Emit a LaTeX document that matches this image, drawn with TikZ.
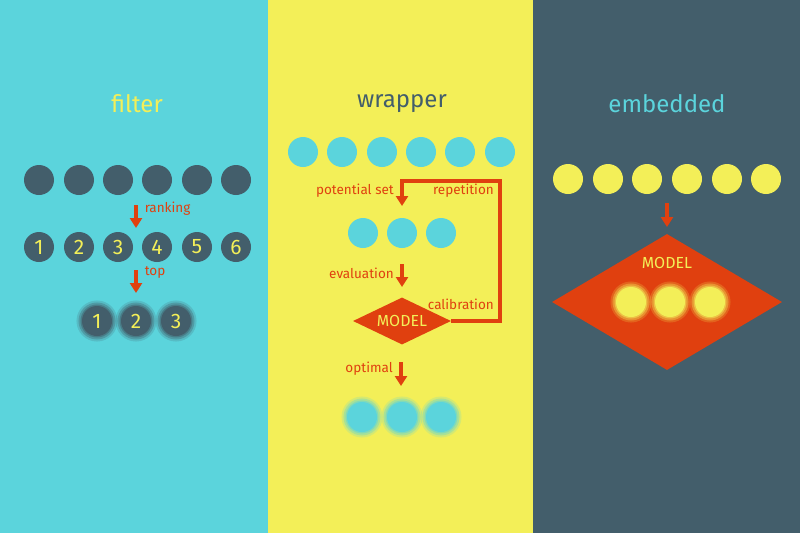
\documentclass[tikz,border=0pt]{standalone}
\usepackage{fontspec}
\setmainfont{Fira Sans}
\usepackage{tikz}
\usetikzlibrary{shapes.geometric, arrows.meta, positioning}
\definecolor{cyanbg}{HTML}{5BD4DC}
\definecolor{yellowbg}{HTML}{F3EF58}
\definecolor{slatebg}{HTML}{435E6B}
\definecolor{redarr}{HTML}{E0400F}

\begin{document}
\begin{tikzpicture}[
  x=1pt, y=-1pt,
  dot/.style={circle, minimum size=30pt, inner sep=0pt,
              font=\fontsize{21}{21}\selectfont},
  title/.style={font=\fontsize{24}{24}\selectfont},
  lbl/.style={font=\fontsize{13.5}{13.5}\selectfont, text=redarr, inner sep=1pt},
  arr/.style={-{Triangle[width=12pt,length=10pt]}, line width=3.5pt, redarr},
  glow/.style={preaction={draw=#1, line width=11pt, opacity=.2},
               preaction={draw=#1, line width=7pt, opacity=.35},
               preaction={draw=#1, line width=3pt, opacity=.5}},
  model/.style={diamond, aspect=2, fill=redarr, inner sep=0pt, text=yellowbg,
                font=\fontsize{16}{16}\selectfont}
]
  \useasboundingbox (0,0) rectangle (800,533);
  % panels
  \fill[cyanbg]   (0,0)   rectangle (268,533);
  \fill[yellowbg] (268,0) rectangle (533,533);
  \fill[slatebg]  (533,0) rectangle (800,533);

  % filter
  \node[title, text=yellowbg] (ftitle) at (137,104) {filter};
  \foreach \x [count=\i] in {39,79,118,157,197,236}
    \node[dot, fill=slatebg] (fa\i) at (\x,180) {};
  \foreach \x [count=\i] in {39,79,118,157,197,236}
    \node[dot, fill=slatebg, text=yellowbg] (fb\i) at (\x,247) {\i};
  \foreach \x [count=\i] in {97,136,176}
    \node[dot, fill=slatebg, text=yellowbg, glow=slatebg] (fc\i) at (\x,321) {\i};
  \coordinate (frk1) at (136,205);
  \coordinate (frk2) at (136,228);
  \coordinate (ftop1) at (136,270);
  \coordinate (ftop2) at (136,293);
  \draw[arr] (frk1) -- node[lbl, right=6pt, pos=0.15] {ranking} (frk2);
  \draw[arr] (ftop1) -- node[lbl, right=6pt, pos=0.1] {top} (ftop2);

  % wrapper
  \node[title, text=slatebg] (wtitle) at (402,104) {wrapper};
  \foreach \x [count=\i] in {303,342,382,421,460,500}
    \node[dot, fill=cyanbg] (wa\i) at (\x,152) {};
  \foreach \x [count=\i] in {363,402,441}
    \node[dot, fill=cyanbg] (wb\i) at (\x,233) {};
  \node[model, minimum width=98pt, minimum height=47pt] (wmodel) at (402,321) {MODEL};
  \foreach \x [count=\i] in {362,402,441}
    \node[dot, fill=cyanbg, glow=cyanbg] (wc\i) at (\x,417) {};
  \coordinate (wcorner) at (500,181);
  \coordinate (wpot) at (402,206);
  \coordinate (weval1) at (402,264);
  \coordinate (weval2) at (402,287);
  \coordinate (wopt1) at (401,362);
  \coordinate (wopt2) at (401,386);
  \draw[arr] (wmodel.east) -| (wcorner) -| (wpot);
  \draw[arr] (weval1) -- (weval2);
  \draw[arr] (wopt1) -- (wopt2);
  \node[lbl, anchor=east] (wlpot) at (395,191) {potential set};
  \node[lbl, anchor=east] (wlrep) at (495,191) {repetition};
  \node[lbl, anchor=east] (wleval) at (395,273) {evaluation};
  \node[lbl, anchor=east] (wlcal) at (495,304) {calibration};
  \node[lbl, anchor=east] (wlopt) at (394,369) {optimal};

  % embedded
  \node[title, text=cyanbg] (etitle) at (667,104) {embedded};
  \foreach \x [count=\i] in {568,608,647,687,727,766}
    \node[dot, fill=yellowbg] (ea\i) at (\x,179) {};
  \node[model, aspect=1.7, minimum width=230pt, minimum height=136pt] (emodel) at (667,302) {};
  \node[text=yellowbg, font=\fontsize{16}{16}\selectfont] (elabel) at (667,263) {MODEL};
  \foreach \x [count=\i] in {631,670,710}
    \node[dot, fill=yellowbg, glow=yellowbg] (eb\i) at (\x,302) {};
  \coordinate (earr1) at (667,203);
  \coordinate (earr2) at (667,227);
  \draw[arr] (earr1) -- (earr2);
\end{tikzpicture}
\end{document}
